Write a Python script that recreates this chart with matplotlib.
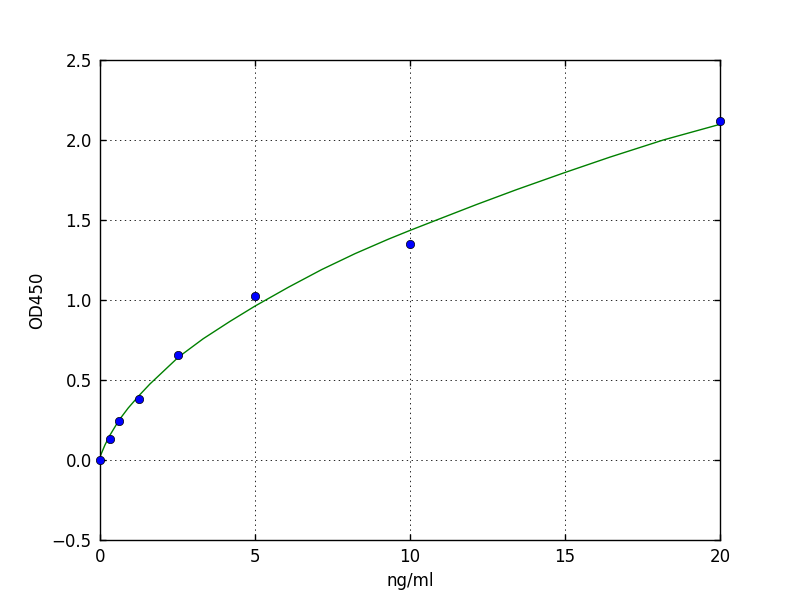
import matplotlib
matplotlib.use("Agg")
import matplotlib.pyplot as plt

# Measured standard points
conc = [0, 0.3125, 0.625, 1.25, 2.5, 5, 10, 20]
od450 = [0.0, 0.13, 0.244, 0.38, 0.654, 1.025, 1.348, 2.119]

# Fitted curve
curve_x = [0, 0.16, 0.32, 0.61, 0.91, 1.27, 1.61, 2.53, 3.33, 4.19, 5.0, 6.08,
           7.15, 8.23, 9.30, 10.0, 10.86, 12.15, 13.44, 15.0, 16.45, 18.17, 20.0]
curve_y = [0.02, 0.094, 0.155, 0.248, 0.325, 0.405, 0.475, 0.643, 0.758, 0.866, 0.962, 1.08,
           1.19, 1.29, 1.38, 1.435, 1.50, 1.597, 1.69, 1.797, 1.893, 2.0, 2.098]

xticks = [0, 5, 10, 15, 20]
yticks = [-0.5, 0.0, 0.5, 1.0, 1.5, 2.0, 2.5]
ytick_labels = ['\u22120.5', '0.0', '0.5', '1.0', '1.5', '2.0', '2.5']

plt.rcParams['font.family'] = ['DejaVu Sans']
plt.rcParams['font.size'] = 12
plt.rcParams['lines.scale_dashes'] = False

fig = plt.figure(figsize=(8, 6), dpi=100)
ax = fig.add_axes([0.125, 0.1, 0.775, 0.8])

ax.plot(curve_x, curve_y, color='#008000', linewidth=1.0, zorder=2,
        solid_joinstyle='round')
ax.plot(conc, od450, linestyle='none', marker='o', markersize=6,
        markerfacecolor='#0000ff', markeredgecolor='k', markeredgewidth=0.5,
        zorder=3, clip_on=False)

ax.set_xlim(0, 20)
ax.set_ylim(-0.5, 2.5)
ax.set_xticks(xticks)
ax.set_yticks(yticks)
ax.set_yticklabels(ytick_labels)
ax.grid(True, color='k', linestyle=(0, (1, 2.5)), linewidth=0.6)
ax.set_axisbelow(True)
ax.tick_params(direction='in', top=True, right=True, length=4, width=1, labelsize=12, pad=6)
for s in ax.spines.values():
    s.set_linewidth(1.0)

ax.set_xlabel('ng/ml', fontsize=12)
ax.set_ylabel('OD450', fontsize=12)

fig.savefig('out.png', dpi=100)
